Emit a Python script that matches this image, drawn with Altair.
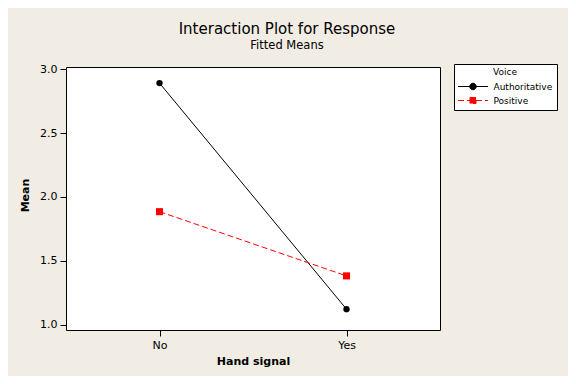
import altair as alt
import pandas as pd

# ---- data ----
hand = ["No", "Yes", "No", "Yes"]
voice = ["Authoritative", "Authoritative", "Positive", "Positive"]
means = [2.89, 1.123, 1.885, 1.383]

hand_levels = ["No", "Yes"]
voice_levels = ["Authoritative", "Positive"]
voice_colors = ["#000000", "#FF0000"]
voice_dashes = [[1, 0], [6, 3]]
y_ticks = [1.0, 1.5, 2.0, 2.5, 3.0]

df = pd.DataFrame({"Hand signal": hand, "Voice": voice, "Mean": means})

FONT = "DejaVu Sans"
BG = "#F1EDE4"

# legend symbols: a short line with the marker on it (5 px per unit at size 100)
path_circle = "M-3,0H3M0.65,0A0.65,0.65 0 1,1 -0.65,0A0.65,0.65 0 1,1 0.65,0Z"
path_square = "M-3,0H3M-0.6,-0.6H0.6V0.6H-0.6Z"

x_enc = alt.X(
    "Hand signal:N",
    scale=alt.Scale(type="point", domain=hand_levels, padding=0.5),
    axis=alt.Axis(title="Hand signal", labelAngle=0, titleY=34.5,
                  titleBaseline="alphabetic"),
)
y_enc = alt.Y(
    "Mean:Q",
    scale=alt.Scale(domain=[0.96, 3.016], nice=False, zero=False),
    axis=alt.Axis(title="Mean", values=y_ticks, format=".1f", titleX=-38,
                  titleY=128, titleAngle=270, titleBaseline="alphabetic"),
)

base = alt.Chart(df)
sel_a = alt.datum.Voice == voice_levels[0]
sel_p = alt.datum.Voice == voice_levels[1]

line_a = base.transform_filter(sel_a).mark_line(
    strokeWidth=1, color=voice_colors[0]
).encode(x=x_enc, y=y_enc)
line_p = base.transform_filter(sel_p).mark_line(
    strokeWidth=1, color=voice_colors[1], strokeDash=voice_dashes[1]
).encode(x=x_enc, y=y_enc)

pts_a = base.transform_filter(sel_a).mark_point(
    shape="circle", filled=True, size=40, color=voice_colors[0], opacity=1
).encode(x=x_enc, y=y_enc)
pts_p = base.transform_filter(sel_p).mark_point(
    shape="square", filled=True, size=50, color=voice_colors[1], opacity=1
).encode(x=x_enc, y=y_enc)

leg = alt.Legend(
    title="Voice",
    orient="none",
    legendX=388,
    legendY=-3,
    symbolOpacity=1,
    symbolSize=100,
    symbolStrokeWidth=1,
    symbolOffset=9.5,
    labelOffset=15,
    labelExpr="datum.label + '   '",
)
legend_layer = base.mark_point(filled=True, opacity=0).encode(
    x=x_enc,
    y=y_enc,
    fill=alt.Fill("Voice:N", scale=alt.Scale(domain=voice_levels, range=voice_colors), legend=leg),
    stroke=alt.Stroke("Voice:N", scale=alt.Scale(domain=voice_levels, range=voice_colors), legend=leg),
    shape=alt.Shape("Voice:N", scale=alt.Scale(domain=voice_levels, range=[path_circle, path_square]), legend=leg),
    strokeDash=alt.StrokeDash("Voice:N", scale=alt.Scale(domain=voice_levels, range=voice_dashes), legend=leg),
)

chart = (
    alt.layer(line_a, line_p, pts_a, pts_p, legend_layer)
    .properties(
        width=374,
        height=263,
        padding={"left": 58, "top": 59, "right": 128, "bottom": 46},
        autosize=alt.AutoSizeParams(type="none"),
        background=BG,
        title=alt.TitleParams(
            text="Interaction Plot for Response",
            subtitle="Fitted Means",
            anchor="middle",
            frame="group",
            dx=34,
            offset=12,
            font=FONT,
            fontSize=15,
            fontWeight="normal",
            color="#000000",
            subtitleFont=FONT,
            subtitleFontSize=11.5,
            subtitleColor="#000000",
            subtitlePadding=3,
        ),
    )
    .configure_view(stroke="#000000", strokeWidth=1, fill="#FFFFFF")
    .configure_axis(
        domain=False,
        grid=False,
        ticks=True,
        tickColor="#000000",
        tickSize=6,
        tickWidth=1,
        labelFont=FONT,
        labelFontSize=11,
        labelColor="#000000",
        labelPadding=3,
        titleFont=FONT,
        titleFontSize=11,
        titleFontWeight="bold",
        titleColor="#000000",
    )
    .configure_legend(
        padding=4,
        strokeColor="#000000",
        fillColor="#FFFFFF",
        cornerRadius=0,
        titleFont=FONT,
        titleFontSize=9,
        titleFontWeight="normal",
        titleColor="#000000",
        titleAnchor="middle",
        titlePadding=4,
        labelFont=FONT,
        labelFontSize=9,
        labelColor="#000000",
        rowPadding=3,
    )
)

chart.save("out.html", embed_options={"renderer": "svg", "actions": False})
